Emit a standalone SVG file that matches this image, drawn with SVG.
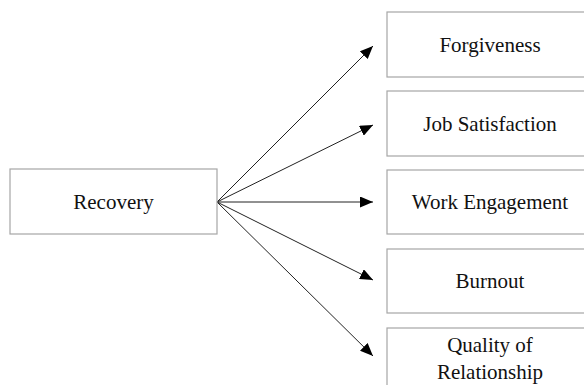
<svg xmlns="http://www.w3.org/2000/svg" width="584" height="385" viewBox="0 0 584 385">
<style>
.box{fill:#fff;stroke:#a6a6a6;stroke-width:1.2}
.lbl{font-family:"Liberation Serif","Times New Roman",serif;font-size:21px;fill:#111;text-anchor:middle}
.conn{stroke:#222;stroke-width:1;fill:none;marker-end:url(#arr)}
</style>
<defs>
<marker id="arr" viewBox="0 0 13 11" refX="13" refY="5.5" markerWidth="13" markerHeight="11" markerUnits="userSpaceOnUse" orient="auto">
<path d="M0,0 L13,5.5 L0,11 Z" fill="#000"/>
</marker>
</defs>
<rect width="584" height="385" fill="#fff"/>
<g id="connectors">
<line class="conn" x1="217" y1="202" x2="373" y2="46"/>
<line class="conn" x1="217" y1="202" x2="373" y2="125"/>
<line class="conn" x1="217" y1="202" x2="373" y2="202"/>
<line class="conn" x1="217" y1="202" x2="373" y2="280"/>
<line class="conn" x1="217" y1="202" x2="373" y2="356"/>
</g>
<g id="recovery">
<rect class="box" x="10" y="169" width="207" height="65"/>
<text class="lbl" x="113.5" y="209">Recovery</text>
</g>
<g id="forgiveness">
<rect class="box" x="387" y="12" width="207" height="65"/>
<text class="lbl" x="490" y="52">Forgiveness</text>
</g>
<g id="job-satisfaction">
<rect class="box" x="387" y="91" width="207" height="65"/>
<text class="lbl" x="490" y="131">Job Satisfaction</text>
</g>
<g id="work-engagement">
<rect class="box" x="387" y="170" width="207" height="64"/>
<text class="lbl" x="490" y="209">Work Engagement</text>
</g>
<g id="burnout">
<rect class="box" x="387" y="249" width="207" height="64"/>
<text class="lbl" x="490" y="288">Burnout</text>
</g>
<g id="quality-of-relationship">
<rect class="box" x="387" y="328" width="207" height="65"/>
<text class="lbl" x="490" y="352">Quality of</text>
<text class="lbl" x="490" y="379">Relationship</text>
</g>
</svg>
